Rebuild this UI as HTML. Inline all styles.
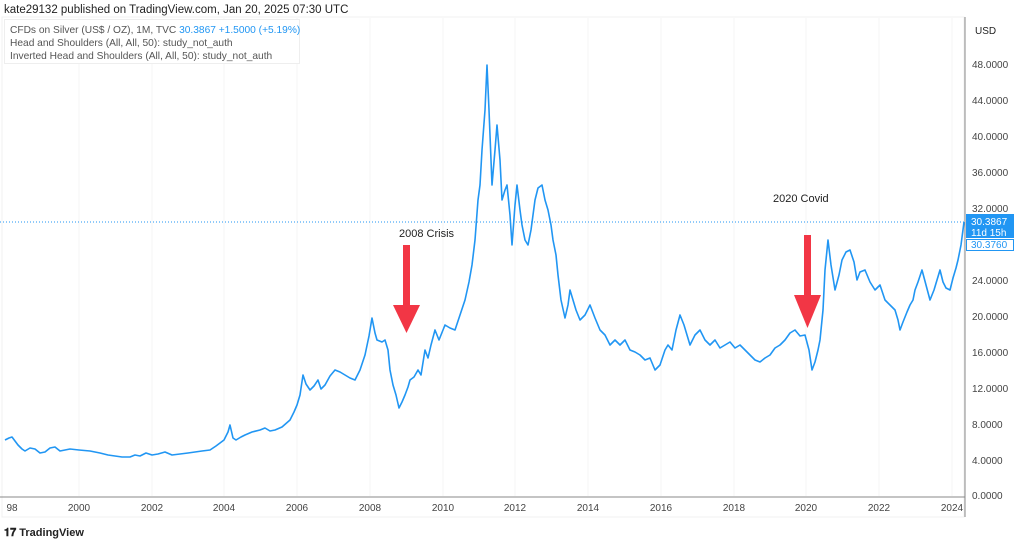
<!DOCTYPE html><html><head><style>
body{margin:0;width:1024px;height:543px;background:#fff;font-family:"Liberation Sans",sans-serif;overflow:hidden;position:relative}
</style></head><body>
<svg width="1024" height="543" style="position:absolute;left:0;top:0" font-family="Liberation Sans, sans-serif">
<rect x="2" y="17" width="962" height="500" fill="none" stroke="#f0f0f0"/>
<g stroke="#f4f4f6" stroke-width="1">
<line x1="79" y1="18" x2="79" y2="496"/><line x1="152" y1="18" x2="152" y2="496"/><line x1="224" y1="18" x2="224" y2="496"/><line x1="297" y1="18" x2="297" y2="496"/><line x1="370" y1="18" x2="370" y2="496"/><line x1="443" y1="18" x2="443" y2="496"/><line x1="515" y1="18" x2="515" y2="496"/><line x1="588" y1="18" x2="588" y2="496"/><line x1="661" y1="18" x2="661" y2="496"/><line x1="734" y1="18" x2="734" y2="496"/><line x1="806" y1="18" x2="806" y2="496"/><line x1="879" y1="18" x2="879" y2="496"/><line x1="952" y1="18" x2="952" y2="496"/>
</g>
<rect x="4.5" y="19.5" width="295" height="44" fill="#fff" stroke="#eee"/>
<line x1="965" y1="17" x2="965" y2="517" stroke="#888" stroke-width="1"/>
<line x1="0" y1="497" x2="965" y2="497" stroke="#888" stroke-width="1"/>
<line x1="0" y1="222" x2="965" y2="222" stroke="#2196f3" stroke-width="1" stroke-dasharray="1,2"/>
<polyline fill="none" stroke="#2196f3" stroke-width="1.6" stroke-linejoin="round" points="5,440 9,438 12,437 15,441 18,445 22,449 25,451 30,448 35,449 40,453 45,452 50,448 55,447 60,451 65,450 70,449 79,450 90,451 100,453 108,455 115,456 122,457 130,457 135,455 140,456 146,453 152,455 158,454 165,452 172,455 180,454 188,453 195,452 202,451 210,450 216,446 224,440 228,432 230,425 233,438 236,440 241,437 245,435 252,432 260,430 265,428 270,431 275,430 282,427 290,420 294,412 297,405 300,395 303,375 306,384 310,390 314,386 318,380 321,389 325,385 330,376 335,370 340,372 345,375 350,378 355,380 360,370 365,355 369,336 372,318 375,333 377,340 382,342 385,340 388,350 390,370 393,385 396,395 399,408 402,402 405,395 408,387 410,380 414,377 418,370 421,375 425,350 428,358 431,345 435,330 439,340 445,325 450,328 455,330 460,315 465,300 469,282 472,265 475,240 478,200 480,185 482,150 485,110 487,65 489,110 492,185 495,150 497,125 500,160 502,200 505,190 507,185 510,215 512,245 515,205 517,185 520,210 522,225 525,240 528,245 531,230 535,200 538,188 542,185 545,200 548,210 551,225 553,240 556,255 558,275 561,300 565,318 568,305 570,290 573,300 576,310 580,320 585,315 590,305 595,318 600,330 605,335 610,345 615,340 620,345 625,340 630,350 635,352 640,355 645,360 650,358 655,370 660,365 665,350 668,345 672,350 676,330 680,315 684,325 690,345 695,335 700,330 705,340 710,345 715,340 720,348 725,345 730,342 735,348 740,345 745,350 750,355 755,360 760,362 765,358 770,355 775,348 780,345 785,340 790,333 795,330 800,336 805,335 809,350 812,370 815,362 818,350 820,340 823,310 825,270 828,240 831,265 835,290 839,275 842,260 846,252 850,250 854,262 857,280 860,272 865,270 870,282 875,290 880,285 885,300 890,305 895,310 898,320 900,330 903,322 907,312 910,305 913,300 915,290 918,282 922,270 926,285 930,300 934,290 937,280 940,270 943,282 946,288 950,290 953,278 956,268 958,260 961,245 964,222"/>
<g fill="#f23645">
<rect x="403" y="245" width="7" height="62"/><polygon points="393,305 420,305 406.5,333"/>
<rect x="804" y="235" width="7" height="62"/><polygon points="794,295 821,295 807.5,328"/>
</g>
<text x="399" y="237" font-size="11" fill="#222">2008 Crisis</text>
<text x="773" y="202" font-size="11" fill="#222">2020 Covid</text>
<g font-size="10" fill="#444">
<text x="972" y="68">48.0000</text><text x="972" y="104">44.0000</text><text x="972" y="140">40.0000</text><text x="972" y="176">36.0000</text><text x="972" y="212">32.0000</text><text x="972" y="284">24.0000</text><text x="972" y="320">20.0000</text><text x="972" y="356">16.0000</text><text x="972" y="392">12.0000</text><text x="972" y="428">8.0000</text><text x="972" y="464">4.0000</text><text x="972" y="499">0.0000</text>
<text x="975" y="34" font-size="10" fill="#222">USD</text>
</g>
<rect x="966" y="214" width="48" height="24" fill="#2196f3"/>
<text x="971" y="225" font-size="10" fill="#fff">30.3867</text><text x="971" y="236" font-size="10" fill="#fff">11d 15h</text>
<rect x="966.5" y="239.5" width="47" height="11" fill="#fff" stroke="#2196f3"/>
<text x="971" y="248" font-size="10" fill="#2196f3">30.3760</text>
<g font-size="10" fill="#444" text-anchor="middle">
<text x="12" y="511">98</text><text x="79" y="511">2000</text><text x="152" y="511">2002</text><text x="224" y="511">2004</text><text x="297" y="511">2006</text><text x="370" y="511">2008</text><text x="443" y="511">2010</text><text x="515" y="511">2012</text><text x="588" y="511">2014</text><text x="661" y="511">2016</text><text x="734" y="511">2018</text><text x="806" y="511">2020</text><text x="879" y="511">2022</text><text x="952" y="511">2024</text>
</g>
<text x="4" y="13" font-size="11.5" fill="#222">kate29132 published on TradingView.com, Jan 20, 2025 07:30 UTC</text>
<text x="10" y="33" font-size="10.2" fill="#555">CFDs on Silver (US$ / OZ), 1M, TVC <tspan fill="#2196f3">30.3867  +1.5000 (+5.19%)</tspan></text>
<text x="10" y="46" font-size="10.2" fill="#555">Head and Shoulders (All, All, 50): study_not_auth</text>
<text x="10" y="59" font-size="10.2" fill="#555">Inverted Head and Shoulders (All, All, 50): study_not_auth</text>
<text x="4" y="536" font-size="11" font-weight="bold" fill="#222">𝟏𝟕 TradingView</text>
</svg>
</body></html>
